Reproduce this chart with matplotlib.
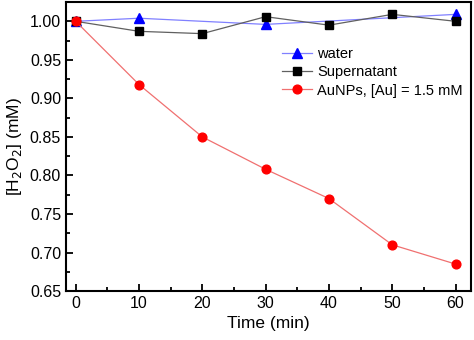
import matplotlib.pyplot as plt
from matplotlib.ticker import MultipleLocator

plt.rcParams['font.family'] = ['Liberation Sans', 'DejaVu Sans']

# H2O2 concentration over time
time_water = [0, 10, 30, 60]
h2o2_water = [1.000, 1.004, 0.996, 1.009]

time_sup = [0, 10, 20, 30, 40, 50, 60]
h2o2_sup = [1.000, 0.987, 0.984, 1.006, 0.995, 1.009, 1.000]

time_au = [0, 10, 20, 30, 40, 50, 60]
h2o2_au = [1.000, 0.918, 0.850, 0.808, 0.770, 0.710, 0.685]


def main():
    fig = plt.figure(figsize=(4.74, 3.4), dpi=100)
    ax = fig.add_axes([0.1392, 0.144, 0.854, 0.85])

    ax.plot(time_water, h2o2_water, color='#8080ff', lw=0.9, marker='^',
            ms=7, mfc='blue', mec='blue', label='water')
    ax.plot(time_sup, h2o2_sup, color='#606060', lw=0.9, marker='s',
            ms=5.5, mfc='black', mec='black', label='Supernatant')
    ax.plot(time_au, h2o2_au, color='#f07070', lw=0.9, marker='o',
            ms=6.3, mfc='red', mec='red', label='AuNPs, [Au] = 1.5 mM')

    ax.set_xlim(-1.53, 62.4)
    ax.set_ylim(0.65, 1.025)
    ax.xaxis.set_major_locator(MultipleLocator(10))
    ax.xaxis.set_minor_locator(MultipleLocator(5))
    ax.yaxis.set_major_locator(MultipleLocator(0.05))
    ax.yaxis.set_minor_locator(MultipleLocator(0.025))
    ax.yaxis.set_major_formatter(plt.FormatStrFormatter('%.2f'))
    ax.tick_params(which='both', direction='in', labelsize=11.5, width=1.3)
    ax.tick_params(which='major', length=5)
    ax.tick_params(which='minor', length=3)
    for s in ax.spines.values():
        s.set_linewidth(1.5)

    ax.set_xlabel('Time (min)', fontsize=12.5)
    ax.set_ylabel('[H$_2$O$_2$] (mM)', fontsize=12.5)

    ax.legend(loc='upper left', bbox_to_anchor=(0.533, 0.845), frameon=False,
              fontsize=10.5, handlelength=2.1, handletextpad=0.35,
              labelspacing=0.3, borderaxespad=0, borderpad=0)

    plt.savefig('out.png', dpi=100)
    plt.close()


if __name__ == "__main__":
    main()
